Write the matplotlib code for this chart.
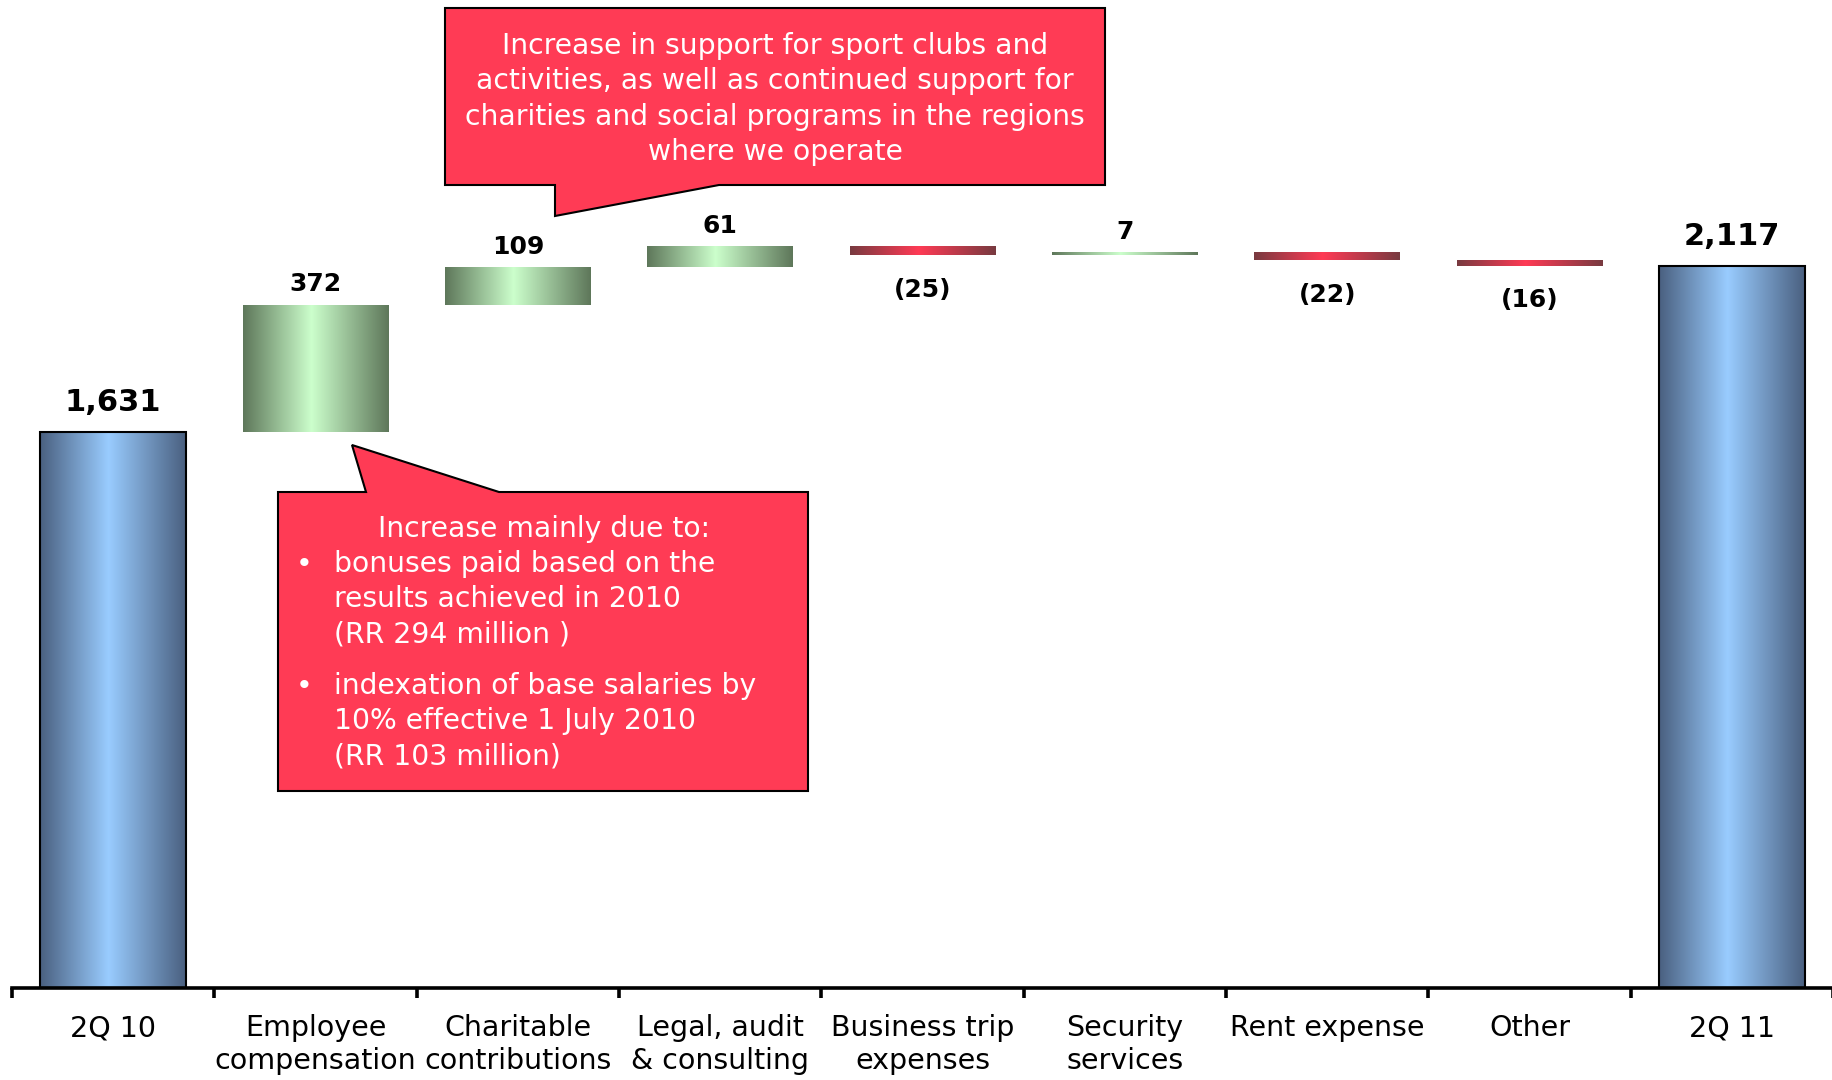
import matplotlib
matplotlib.use('Agg')
import matplotlib.pyplot as plt
import numpy as np
from matplotlib.colors import LinearSegmentedColormap
from matplotlib.patches import Polygon

categories = ['2Q 10', 'Employee\ncompensation', 'Charitable\ncontributions',
              'Legal, audit\n& consulting', 'Business trip\nexpenses', 'Security\nservices',
              'Rent expense', 'Other', '2Q 11']
start_value = 1631
changes = [372, 109, 61, -25, 7, -22, -16]
end_value = 2117

W, H = 1833, 1080
plt.rcParams['font.family'] = 'DejaVu Sans'

fig = plt.figure(figsize=(W / 100, H / 100), dpi=100)
ax = fig.add_axes([12 / W, 1 - 988 / H, 1 - 12 / W, 988 / H])


def px(x, y):
    # pixel position (from top-left) to figure fraction
    return x / W, 1 - y / H


def ramp(name, dark, light):
    return LinearSegmentedColormap.from_list(name, [(0, dark), (0.47, light), (1, dark)])


blue = ramp('blue', '#4a6080', '#99ccff')
green = ramp('green', '#5e775a', '#ccffcc')
red = ramp('red', '#783a40', '#ff3b55')

# waterfall bar heights and bottoms
heights = [start_value]
bottoms = [0]
level = start_value
for c in changes:
    bottoms.append(level if c > 0 else level + c)
    heights.append(abs(c))
    level += c
heights.append(end_value)
bottoms.append(0)

x = np.arange(len(categories))
bars = ax.bar(x, heights, bottom=bottoms, width=0.72, color='none', edgecolor='none')

grad = np.linspace(0, 1, 256).reshape(1, -1)
values = [start_value] + changes + [end_value]
for i, (bar, v) in enumerate(zip(bars, values)):
    x0, y0 = bar.get_x(), bar.get_y()
    x1, y1 = x0 + bar.get_width(), y0 + bar.get_height()
    xc = x0 + bar.get_width() / 2
    total = i == 0 or i == len(values) - 1
    cmap = blue if total else (green if v > 0 else red)
    ax.imshow(grad, extent=[x0, x1, y0, y1], aspect='auto', cmap=cmap,
              interpolation='bicubic', zorder=2)
    if total:
        bar.set_edgecolor('black')
        bar.set_linewidth(1.5)
        bar.set_zorder(3)
        ax.annotate(f'{v:,}', (xc, y1), xytext=(0, 21), textcoords='offset points',
                    ha='center', va='center', fontsize=22, fontweight='bold')
    elif v > 0:
        ax.annotate(f'{v}', (xc, y1), xytext=(0, 15), textcoords='offset points',
                    ha='center', va='center', fontsize=18, fontweight='bold')
    else:
        ax.annotate(f'({-v})', (xc, y0), xytext=(0, -25), textcoords='offset points',
                    ha='center', va='center', fontsize=18, fontweight='bold')

ax.set_xlim(-0.5, len(categories) - 0.5)
ax.set_ylim(0, 2896)

for side in ['left', 'right', 'top']:
    ax.spines[side].set_visible(False)
ax.spines['bottom'].set_linewidth(2.6)
ax.set_yticks([])
ax.set_xticks(x)
ax.set_xticklabels(categories, fontsize=20.5)
ax.set_xticks(np.arange(-0.5, len(categories)), minor=True)
ax.tick_params(axis='x', which='major', length=0, pad=19)
ax.tick_params(axis='x', which='minor', length=7, width=2.6, direction='out')
for lbl in ax.get_xticklabels():
    lbl.set_linespacing(1.22)
    lbl.set_verticalalignment('top')

callout_red = '#ff3b55'
callout_size = 20.3

# top callout (charitable contributions)
shape1 = [(445, 8), (1105, 8), (1105, 185), (719, 185), (555, 216), (555, 185), (445, 185)]
fig.patches.append(Polygon([px(a, b) for a, b in shape1], closed=True, facecolor=callout_red,
                           edgecolor='black', linewidth=1.5, transform=fig.transFigure))
lines1 = ['Increase in support for sport clubs and',
          'activities, as well as continued support for',
          'charities and social programs in the regions',
          'where we operate']
for line, y in zip(lines1, [46, 81, 117, 152]):
    fig.text(*px(775, y), line, ha='center', va='center', color='white', fontsize=callout_size)

# lower callout (employee compensation)
shape2 = [(278, 492), (366, 492), (352, 445), (499, 492), (808, 492), (808, 791), (278, 791)]
fig.patches.append(Polygon([px(a, b) for a, b in shape2], closed=True, facecolor=callout_red,
                           edgecolor='black', linewidth=1.5, transform=fig.transFigure))
fig.text(*px(544, 529), 'Increase mainly due to:', ha='center', va='center',
         color='white', fontsize=callout_size)
bullet_lines = [(564, 'bonuses paid based on the', True),
                (599, 'results achieved in 2010', False),
                (635, '(RR 294 million )', False),
                (686, 'indexation of base salaries by', True),
                (721, '10% effective 1 July 2010', False),
                (756, '(RR 103 million)', False)]
for y, line, bullet in bullet_lines:
    if bullet:
        fig.text(*px(304, y), '•', ha='center', va='center', color='white', fontsize=callout_size)
    fig.text(*px(334, y), line, ha='left', va='center', color='white', fontsize=callout_size)

fig.savefig('out.png', dpi=100)
